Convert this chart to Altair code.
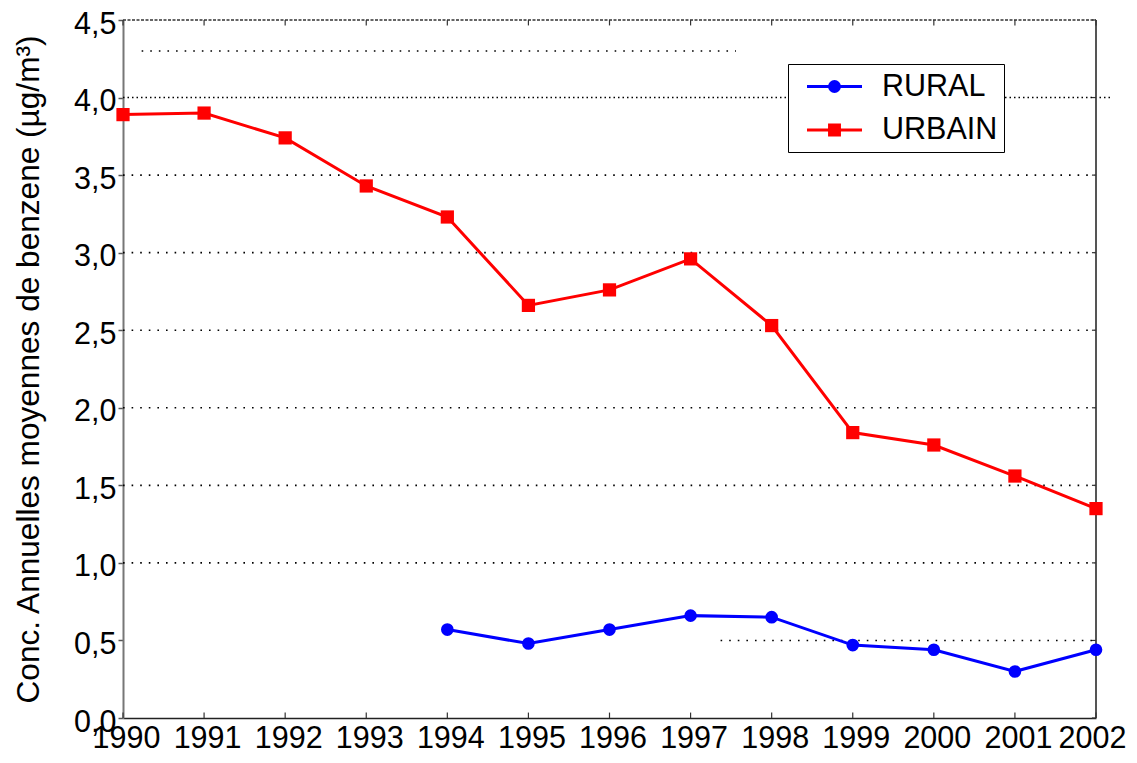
import altair as alt
import pandas as pd

FONT = "Liberation Sans"

# ---- data ----
years = [1990, 1991, 1992, 1993, 1994, 1995, 1996, 1997, 1998, 1999, 2000, 2001, 2002]
urbain = [3.89, 3.90, 3.74, 3.43, 3.23, 2.66, 2.76, 2.96, 2.53, 1.84, 1.76, 1.56, 1.35]
rural_years = [1994, 1995, 1996, 1997, 1998, 1999, 2000, 2001, 2002]
rural = [0.57, 0.48, 0.57, 0.66, 0.65, 0.47, 0.44, 0.30, 0.44]
series = ["RURAL", "URBAIN"]
colors = ["#0000ff", "#ff0000"]
y_ticks = [0.0, 0.5, 1.0, 1.5, 2.0, 2.5, 3.0, 3.5, 4.0, 4.5]

# dotted reference lines (value, start year, end year)
grid_y = [1.0, 1.5, 2.0, 2.5, 3.0, 3.5, 4.3, 0.5]
grid_start = [1990, 1990, 1990, 1990, 1990, 1990, 1990.23, 1997.37]
grid_end = [2002, 2002, 2002, 2002, 2002, 2002, 1997.56, 2002]
dense_y = [4.0]
dense_start = [1990]
dense_end = [2002.18]

YMIN, YMAX = 0.0, 4.5
XMIN, XMAX = 1990, 2002

urb_df = pd.DataFrame({"year": years, "value": urbain})
rur_df = pd.DataFrame({"year": rural_years, "value": rural})
grid_df = pd.DataFrame({"y": grid_y, "x1": grid_start, "x2": grid_end})
dense_df = pd.DataFrame({"y": dense_y, "x1": dense_start, "x2": dense_end})
year_df = pd.DataFrame({"year": years, "lo": [YMIN] * len(years), "lo2": [YMIN + 0.035] * len(years),
                        "hi": [YMAX] * len(years), "hi2": [YMAX - 0.035] * len(years)})
ytick_df = pd.DataFrame({"y": y_ticks, "x1": [XMAX] * len(y_ticks), "x2": [XMAX - 0.05] * len(y_ticks)})
border_df = pd.DataFrame({"x1": [XMIN], "x2": [XMAX], "y1": [YMIN], "y2": [YMAX]})
legend_df = pd.DataFrame({"series": series})

xscale = alt.Scale(domain=[XMIN, XMAX], nice=False, zero=False)
yscale = alt.Scale(domain=[YMIN, YMAX], nice=False, zero=True)

xaxis = alt.Axis(values=years, format="d", labelFontSize=30.5, labelColor="black", labelFont=FONT,
                 ticks=False, tickSize=0, labelPadding=5,
                 labelOffset={"condition": {"test": "datum.value === 2002", "value": -4}, "value": 3},
                 domainColor="#222", domainWidth=1.5, grid=False, title=None,
                 labelOverlap=False, labelFlush=False)
yaxis = alt.Axis(values=y_ticks, labelExpr="replace(format(datum.value, '.1f'), '.', ',')",
                 labelFontSize=30.5, labelColor="black", labelFont=FONT, tickSize=5, tickColor="#555",
                 tickWidth=1.5, labelPadding=2, labelOffset=4, domainColor="#777", domainWidth=2,
                 grid=False, title="Conc. Annuelles moyennes de benzene (µg/m³)", titleFontSize=31.6,
                 titleFontWeight="normal", titleColor="black", titleFont=FONT, titlePadding=28,
                 labelOverlap=False, labelFlush=False)

X = lambda f: alt.X(f, type="quantitative", scale=xscale, axis=xaxis)
Y = lambda f: alt.Y(f, type="quantitative", scale=yscale, axis=yaxis)

grid = alt.Chart(grid_df).mark_rule(color="black", strokeWidth=1.6, strokeDash=[1.6, 7]).encode(
    x=X("x1"), x2="x2", y=Y("y"))
dense = alt.Chart(dense_df).mark_rule(color="black", strokeWidth=1.5, strokeDash=[1.5, 3], clip=False).encode(
    x=X("x1"), x2="x2", y=Y("y"))
top = alt.Chart(border_df).mark_rule(color="#333", strokeWidth=1.5, strokeDash=[3, 1.5]).encode(
    x=X("x1"), x2="x2", y=Y("y2"))
right = alt.Chart(border_df).mark_rule(color="#555", strokeWidth=2).encode(
    x=X("x2"), y=Y("y1"), y2="y2")
bot_ticks = alt.Chart(year_df).mark_rule(color="#333", strokeWidth=1.2).encode(
    x=X("year"), y=Y("lo"), y2="lo2")
top_ticks = alt.Chart(year_df).mark_rule(color="#333", strokeWidth=1.2).encode(
    x=X("year"), y=Y("hi"), y2="hi2")
right_ticks = alt.Chart(ytick_df).mark_rule(color="#333", strokeWidth=1.2).encode(
    x=X("x1"), x2="x2", y=Y("y"))

urb_line = alt.Chart(urb_df).mark_line(color=colors[1], strokeWidth=3).encode(x=X("year"), y=Y("value"))
urb_pts = alt.Chart(urb_df).mark_point(color=colors[1], filled=True, shape="square", size=175, opacity=1).encode(
    x=X("year"), y=Y("value"))
rur_line = alt.Chart(rur_df).mark_line(color=colors[0], strokeWidth=3).encode(x=X("year"), y=Y("value"))
rur_pts = alt.Chart(rur_df).mark_point(color=colors[0], filled=True, shape="circle", size=160, opacity=1).encode(
    x=X("year"), y=Y("value"))

# legend symbols: a short line with the marker in its middle
circle_path = "M-1.833,0H1.833M0.33,0A0.33,0.33,0,1,1,-0.33,0A0.33,0.33,0,1,1,0.33,0Z"
square_path = "M-1.833,0H1.833M-0.33,-0.33H0.33V0.33H-0.33Z"
leg = alt.Legend(orient="none", legendX=665, legendY=44, labelFontSize=30.5, labelFont=FONT,
                 labelColor="black", symbolSize=900, symbolStrokeWidth=3, symbolOpacity=1,
                 symbolOffset=24, strokeColor="black", fillColor="white", padding=6,
                 labelOffset=31, rowPadding=11.5)
legend_layer = alt.Chart(legend_df).mark_point(filled=True, opacity=0).encode(
    fill=alt.Fill("series:N", scale=alt.Scale(domain=series, range=colors), legend=leg, title=None),
    stroke=alt.Stroke("series:N", scale=alt.Scale(domain=series, range=colors), legend=leg, title=None),
    shape=alt.Shape("series:N", scale=alt.Scale(domain=series, range=[circle_path, square_path]),
                    legend=leg, title=None),
)

chart = alt.layer(grid, dense, top, right, bot_ticks, top_ticks, right_ticks,
                  urb_line, rur_line, urb_pts, rur_pts, legend_layer).properties(
    width=973, height=698,
    autosize=alt.AutoSizeParams(type="none"),
    padding={"left": 115, "top": 12, "right": 33, "bottom": 37},
).configure(font=FONT).configure_view(stroke=None)

chart.save("out.html", embed_options={"renderer": "svg", "actions": False})
